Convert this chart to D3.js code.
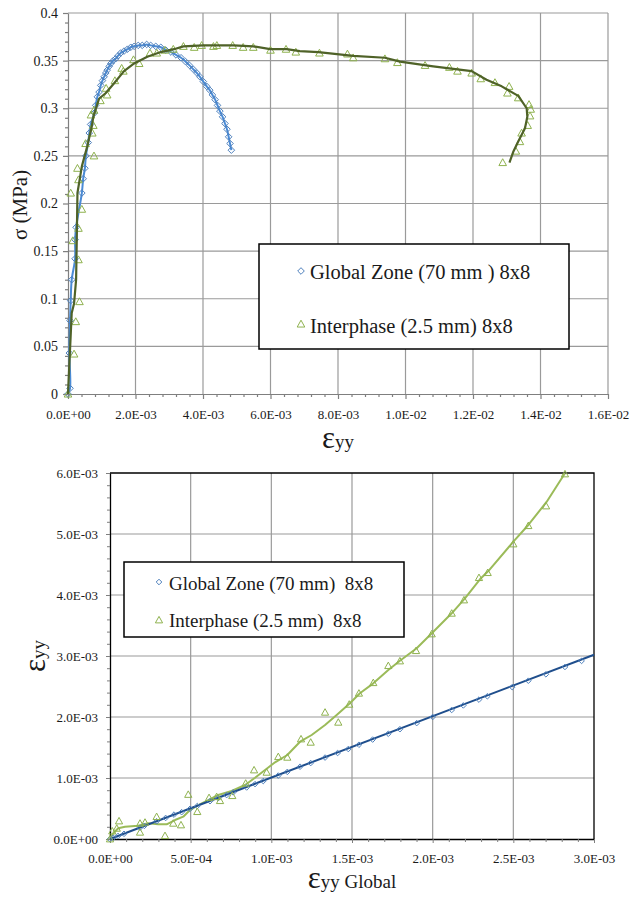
<!DOCTYPE html>
<html><head><meta charset="utf-8">
<script src="https://cdn.jsdelivr.net/npm/d3@7"></script>
<style>body{margin:0;background:#fff} svg{display:block} text{font-family:"Liberation Serif","Times New Roman",serif;fill:#1a1a1a}</style>
</head><body><svg id="c" width="632" height="899"></svg>
<script>
// ---------------- TOP CHART DATA (strain eyy vs stress MPa) ----------------
const topGlobalX = [0,6e-5,4e-5,6e-5,8e-5,1.1e-4,2.1e-4,2.1e-4,2.4e-4,4.1e-4,4.5e-4,5.0e-4,5.3e-4,6.0e-4,6.3e-4,6.7e-4,7.8e-4,8.2e-4,8.7e-4,9.2e-4,9.7e-4,1.02e-3,1.07e-3,1.12e-3,1.16e-3,1.22e-3,1.27e-3,1.34e-3,1.41e-3,1.48e-3,1.56e-3,1.66e-3,1.76e-3,1.86e-3,1.96e-3,2.08e-3,2.20e-3,2.33e-3,2.45e-3,2.60e-3,2.75e-3,2.90e-3,3.05e-3,3.20e-3,3.35e-3,3.48e-3,3.60e-3,3.71e-3,3.82e-3,3.91e-3,4.01e-3,4.11e-3,4.20e-3,4.28e-3,4.36e-3,4.43e-3,4.50e-3,4.58e-3,4.65e-3,4.71e-3,4.76e-3,4.80e-3,4.84e-3];
const topGlobalY = [0,0.006,0.043,0.077,0.098,0.120,0.142,0.162,0.175,0.211,0.226,0.237,0.250,0.264,0.274,0.283,0.295,0.303,0.312,0.317,0.324,0.329,0.333,0.337,0.340,0.344,0.347,0.350,0.352,0.355,0.358,0.360,0.362,0.364,0.365,0.366,0.366,0.367,0.366,0.365,0.364,0.361,0.359,0.356,0.353,0.349,0.345,0.341,0.337,0.333,0.328,0.323,0.319,0.314,0.309,0.303,0.297,0.291,0.284,0.278,0.270,0.263,0.256];

const topInterX = [0,1.8e-4,2.3e-4,3.4e-4,3.1e-4,1.4e-4,3.1e-4,4.1e-4,8e-5,3.1e-4,2.8e-4,7.7e-4,5.2e-4,7.2e-4,7.5e-4,6.8e-4,7.7e-4,9.6e-4,1.16e-3,1.13e-3,1.39e-3,1.64e-3,1.59e-3,1.94e-3,2.11e-3,2.43e-3,2.63e-3,2.87e-3,3.12e-3,3.42e-3,3.74e-3,3.96e-3,4.31e-3,4.41e-3,4.88e-3,5.19e-3,5.49e-3,6.00e-3,6.46e-3,6.75e-3,7.45e-3,8.28e-3,8.45e-3,9.39e-3,9.76e-3,1.058e-2,1.130e-2,1.154e-2,1.196e-2,1.223e-2,1.265e-2,1.307e-2,1.302e-2,1.334e-2,1.366e-2,1.371e-2,1.369e-2,1.362e-2,1.344e-2,1.339e-2,1.327e-2,1.288e-2];
const topInterY = [0,0.042,0.076,0.097,0.141,0.161,0.174,0.194,0.211,0.225,0.237,0.250,0.263,0.274,0.282,0.293,0.298,0.308,0.314,0.321,0.329,0.339,0.342,0.351,0.347,0.358,0.358,0.361,0.362,0.365,0.364,0.366,0.365,0.366,0.366,0.364,0.364,0.361,0.362,0.359,0.358,0.357,0.353,0.352,0.348,0.345,0.343,0.339,0.337,0.331,0.327,0.323,0.316,0.311,0.304,0.299,0.292,0.282,0.274,0.265,0.255,0.243];

const topInterLineX = [0,1.1e-4,1.8e-4,2.4e-4,2.6e-4,2.8e-4,4.1e-4,5.7e-4,7.0e-4,7.5e-4,9.2e-4,1.12e-3,1.36e-3,1.66e-3,1.96e-3,2.35e-3,2.75e-3,3.14e-3,3.42e-3,4.01e-3,4.90e-3,5.49e-3,5.99e-3,6.48e-3,6.87e-3,7.42e-3,8.45e-3,9.39e-3,9.84e-3,1.082e-2,1.196e-2,1.240e-2,1.285e-2,1.334e-2,1.359e-2,1.361e-2,1.354e-2,1.334e-2,1.319e-2,1.308e-2];
const topInterLineY = [0,0.085,0.095,0.120,0.162,0.211,0.239,0.260,0.280,0.291,0.310,0.316,0.326,0.339,0.347,0.354,0.359,0.362,0.365,0.366,0.366,0.365,0.362,0.362,0.360,0.359,0.355,0.353,0.349,0.344,0.339,0.330,0.323,0.313,0.300,0.291,0.279,0.265,0.254,0.243];

const topXTicks = [0,0.002,0.004,0.006,0.008,0.010,0.012,0.014,0.016];
const topYTicks = [0,0.05,0.10,0.15,0.20,0.25,0.30,0.35,0.40];
const topYLabels = ["0","0.05","0.1","0.15","0.2","0.25","0.3","0.35","0.4"];

// ---------------- BOTTOM CHART DATA (eyy vs eyy Global) ----------------
const botGlobalX = [0,2e-5,5e-5,8.7e-5,1.86e-4,2.13e-4,2.89e-4,3.45e-4,3.97e-4,4.44e-4,4.96e-4,5.41e-4,6.20e-4,6.71e-4,7.23e-4,7.64e-4,8.47e-4,8.99e-4,9.50e-4,1.043e-3,1.099e-3,1.178e-3,1.244e-3,1.333e-3,1.411e-3,1.477e-3,1.543e-3,1.628e-3,1.725e-3,1.797e-3,1.901e-3,2.000e-3,2.118e-3,2.190e-3,2.287e-3,2.339e-3,2.493e-3,2.593e-3,2.702e-3,2.820e-3,2.923e-3];
const botGlobalY = [0,2e-5,5e-5,8.5e-5,1.85e-4,2.15e-4,2.90e-4,3.45e-4,4.00e-4,4.40e-4,4.95e-4,5.40e-4,6.20e-4,6.70e-4,7.20e-4,7.65e-4,8.45e-4,9.00e-4,9.50e-4,1.040e-3,1.100e-3,1.185e-3,1.245e-3,1.335e-3,1.410e-3,1.475e-3,1.545e-3,1.630e-3,1.725e-3,1.800e-3,1.900e-3,2.000e-3,2.115e-3,2.190e-3,2.285e-3,2.340e-3,2.490e-3,2.595e-3,2.700e-3,2.820e-3,2.920e-3];
const botGlobalLineX = [0,3.0e-3];
const botGlobalLineY = [0,3.02e-3];

const botInterX = [0,1.4e-5,4.2e-5,5.6e-5,1.86e-4,1.86e-4,2.17e-4,2.89e-4,3.41e-4,3.92e-4,4.40e-4,4.85e-4,5.41e-4,6.14e-4,6.61e-4,6.82e-4,7.58e-4,8.41e-4,8.93e-4,9.71e-4,1.043e-3,1.099e-3,1.184e-3,1.244e-3,1.333e-3,1.415e-3,1.483e-3,1.543e-3,1.632e-3,1.725e-3,1.797e-3,1.897e-3,1.994e-3,2.118e-3,2.194e-3,2.287e-3,2.341e-3,2.500e-3,2.593e-3,2.703e-3,2.820e-3];
const botInterY = [0,1.3e-4,1.75e-4,2.95e-4,2.57e-4,1.10e-4,2.73e-4,3.66e-4,5.4e-5,2.57e-4,2.30e-4,7.30e-4,4.48e-4,6.77e-4,6.93e-4,6.28e-4,7.10e-4,9.13e-4,1.131e-3,1.093e-3,1.349e-3,1.339e-3,1.639e-3,1.585e-3,2.077e-3,1.913e-3,2.208e-3,2.389e-3,2.562e-3,2.841e-3,2.918e-3,3.087e-3,3.361e-3,3.700e-3,3.918e-3,4.284e-3,4.366e-3,4.836e-3,5.136e-3,5.459e-3,5.984e-3];

const botInterLineX = [0,2e-5,5.1e-5,9.3e-5,1.75e-4,2.37e-4,2.99e-4,3.51e-4,4.03e-4,4.54e-4,4.96e-4,5.47e-4,6.09e-4,6.71e-4,7.54e-4,8.37e-4,8.99e-4,9.61e-4,1.023e-3,1.099e-3,1.178e-3,1.250e-3,1.333e-3,1.405e-3,1.487e-3,1.549e-3,1.632e-3,1.725e-3,1.797e-3,1.901e-3,2.004e-3,2.118e-3,2.200e-3,2.293e-3,2.345e-3,2.500e-3,2.593e-3,2.707e-3,2.820e-3];
const botInterLineY = [0,9.3e-5,1.75e-4,2.00e-4,2.18e-4,2.57e-4,2.40e-4,2.40e-4,3.11e-4,3.66e-4,4.75e-4,5.57e-4,6.39e-4,7.21e-4,7.87e-4,8.85e-4,1.005e-3,1.131e-3,1.257e-3,1.377e-3,1.595e-3,1.705e-3,1.869e-3,2.033e-3,2.225e-3,2.389e-3,2.552e-3,2.770e-3,2.923e-3,3.126e-3,3.398e-3,3.700e-3,3.946e-3,4.257e-3,4.393e-3,4.874e-3,5.148e-3,5.530e-3,5.995e-3];

const botXTicks = [0,5e-4,1e-3,1.5e-3,2e-3,2.5e-3,3e-3];
const botYTicks = [0,1e-3,2e-3,3e-3,4e-3,5e-3,6e-3];

const seriesNames = ["Global Zone (70 mm ) 8x8","Interphase (2.5 mm) 8x8"];
const seriesNamesBottom = ["Global Zone (70 mm)  8x8","Interphase (2.5 mm)  8x8"];

// ---------------- helpers ----------------
const svg = d3.select("#c");
function sci(d){
  if (d === 0) return "0.0E+00";
  const parts = d.toExponential(1).split("e");
  const n = +parts[1];
  return parts[0] + "E" + (n < 0 ? "-" : "+") + String(Math.abs(n)).padStart(2, "0");
}
const zip = (a, b) => a.map((v, i) => [v, b[i]]);
const diamond = r => `M0,${-r}L${r},0L0,${r}L${-r},0Z`;
const tri = r => `M0,${-r}L${r},${r*0.8}L${-r},${r*0.8}Z`;

function minor(ticks, n){
  const out = [];
  for (let i = 0; i < ticks.length - 1; i++) {
    const s = (ticks[i+1] - ticks[i]) / n;
    for (let k = 1; k < n; k++) out.push(ticks[i] + s * k);
  }
  return out;
}

// ---------------- TOP CHART ----------------
(function(){
  const L = 68, R = 608, T = 13, B = 394;
  const x = d3.scaleLinear().domain([0, 0.016]).range([L, R]);
  const y = d3.scaleLinear().domain([0, 0.4]).range([B, T]);
  const g = svg.append("g");
  const gridC = "#9a9a9a";
  g.append("g").selectAll("line").data(topXTicks.slice(1)).join("line")
    .attr("x1", d => x(d)).attr("x2", d => x(d)).attr("y1", T).attr("y2", B)
    .attr("stroke", gridC).attr("stroke-width", 1.2);
  g.append("g").selectAll("line").data(topYTicks.slice(1)).join("line")
    .attr("x1", L).attr("x2", R).attr("y1", d => y(d)).attr("y2", d => y(d))
    .attr("stroke", gridC).attr("stroke-width", 1.2);

  const axC = "#7f7f7f";
  const ya = g.append("g").attr("transform", `translate(${L},0)`)
    .call(d3.axisLeft(y).tickValues(topYTicks).tickSize(5).tickSizeOuter(0).tickPadding(5)
      .tickFormat((d, i) => topYLabels[i]));
  ya.append("g").call(d3.axisLeft(y).tickValues(minor(topYTicks, 5)).tickSize(3).tickFormat(""))
    .select(".domain").remove();
  const xa = g.append("g").attr("transform", `translate(0,${B})`)
    .call(d3.axisBottom(x).tickValues(topXTicks).tickSize(5).tickSizeOuter(0).tickPadding(11).tickFormat(sci));
  xa.append("g").call(d3.axisBottom(x).tickValues(minor(topXTicks, 5)).tickSize(3).tickFormat(""))
    .select(".domain").remove();
  [ya, xa].forEach(a => {
    a.selectAll("path,line").attr("stroke", axC).attr("stroke-width", 1.2);
  });
  ya.selectAll("text").attr("font-size", 14).attr("font-family", "Liberation Serif").attr("fill", "#1a1a1a");
  xa.selectAll("text").attr("font-size", 13).attr("font-family", "Liberation Serif").attr("fill", "#1a1a1a");

  const line = d3.line().x(d => x(d[0])).y(d => y(d[1]));
  g.append("path").datum(zip(topGlobalX, topGlobalY))
    .attr("d", line.curve(d3.curveCatmullRom)).attr("fill", "none").attr("stroke", "#4a8bd6").attr("stroke-width", 2);
  g.append("g").selectAll("path").data(zip(topGlobalX, topGlobalY)).join("path")
    .attr("d", diamond(3.3)).attr("transform", d => `translate(${x(d[0])},${y(d[1])})`)
    .attr("fill", "none").attr("stroke", "#4f81bd").attr("stroke-width", 1);
  g.append("g").selectAll("path").data(zip(topInterX, topInterY)).join("path")
    .attr("d", tri(3.8)).attr("transform", d => `translate(${x(d[0])},${y(d[1])})`)
    .attr("fill", "none").attr("stroke", "#8fb24f").attr("stroke-width", 1);
  g.append("path").datum(zip(topInterLineX, topInterLineY))
    .attr("d", d3.line().x(d => x(d[0])).y(d => y(d[1]))).attr("fill", "none")
    .attr("stroke", "#4f6228").attr("stroke-width", 2.2).attr("stroke-linejoin", "round");

  g.append("text").attr("transform", "translate(27,205) rotate(-90)").attr("text-anchor", "middle")
    .attr("font-size", 21).text("σ (MPa)");
  const xt = g.append("text").attr("x", 338).attr("y", 448).attr("text-anchor", "middle");
  xt.append("tspan").attr("font-size", 31).text("ε");
  xt.append("tspan").attr("font-size", 19).text("yy");

  const lg = g.append("g");
  lg.append("rect").attr("x", 259).attr("y", 244).attr("width", 310).attr("height", 105)
    .attr("fill", "#fff").attr("stroke", "#000").attr("stroke-width", 1.5);
  lg.append("path").attr("d", diamond(3.3)).attr("transform", "translate(301,271)")
    .attr("fill", "none").attr("stroke", "#4f81bd");
  lg.append("path").attr("d", tri(3.8)).attr("transform", "translate(301,324)")
    .attr("fill", "none").attr("stroke", "#8fb24f");
  lg.append("text").attr("x", 310).attr("y", 279).attr("font-size", 20.5).style("white-space", "pre").text(seriesNames[0]);
  lg.append("text").attr("x", 310).attr("y", 333).attr("font-size", 20.5).style("white-space", "pre").text(seriesNames[1]);
})();

// ---------------- BOTTOM CHART ----------------
(function(){
  const L = 110, R = 594, T = 473, B = 839;
  const x = d3.scaleLinear().domain([0, 0.003]).range([L, R]);
  const y = d3.scaleLinear().domain([0, 0.006]).range([B, T]);
  const g = svg.append("g");
  const gridC = "#9a9a9a";
  g.append("g").selectAll("line").data(botXTicks.slice(1, -1)).join("line")
    .attr("x1", d => x(d)).attr("x2", d => x(d)).attr("y1", T).attr("y2", B)
    .attr("stroke", gridC).attr("stroke-width", 1.2);
  g.append("g").selectAll("line").data(botYTicks.slice(1, -1)).join("line")
    .attr("x1", L).attr("x2", R).attr("y1", d => y(d)).attr("y2", d => y(d))
    .attr("stroke", gridC).attr("stroke-width", 1.2);

  const ya = g.append("g").attr("transform", `translate(${L},0)`)
    .call(d3.axisLeft(y).tickValues(botYTicks).tickSize(4).tickSizeOuter(0).tickPadding(8).tickFormat(sci));
  ya.append("g").call(d3.axisLeft(y).tickValues(minor(botYTicks, 5)).tickSize(3).tickFormat(""))
    .select(".domain").remove();
  const xa = g.append("g").attr("transform", `translate(0,${B})`)
    .call(d3.axisBottom(x).tickValues(botXTicks).tickSize(4).tickSizeOuter(0).tickPadding(11).tickFormat(sci));
  xa.append("g").call(d3.axisBottom(x).tickValues(minor(botXTicks, 5)).tickSize(3).tickFormat(""))
    .select(".domain").remove();
  [ya, xa].forEach(a => {
    a.selectAll("line").attr("stroke", "#7f7f7f");
    a.selectAll("text").attr("font-size", 13).attr("font-family", "Liberation Serif").attr("fill", "#1a1a1a");
  });
  ya.select(".domain").attr("stroke", "#000").attr("stroke-width", 1.3);
  xa.select(".domain").attr("stroke", "#000").attr("stroke-width", 1.3);
  g.append("path").attr("d", `M${L},${T}H${R}V${B}`).attr("fill", "none").attr("stroke", "#000").attr("stroke-width", 1.3);

  const line = d3.line().x(d => x(d[0])).y(d => y(d[1]));
  g.append("path").datum(zip(botInterLineX, botInterLineY)).attr("d", line)
    .attr("fill", "none").attr("stroke", "#9bbb59").attr("stroke-width", 2).attr("stroke-linejoin", "round");
  g.append("path").datum(zip(botGlobalLineX, botGlobalLineY)).attr("d", line)
    .attr("fill", "none").attr("stroke", "#1f4e8c").attr("stroke-width", 2);
  g.append("g").selectAll("path").data(zip(botGlobalX, botGlobalY)).join("path")
    .attr("d", diamond(2.8)).attr("transform", d => `translate(${x(d[0])},${y(d[1])})`)
    .attr("fill", "none").attr("stroke", "#4f81bd").attr("stroke-width", 1);
  g.append("g").selectAll("path").data(zip(botInterX, botInterY)).join("path")
    .attr("d", tri(3.6)).attr("transform", d => `translate(${x(d[0])},${y(d[1])})`)
    .attr("fill", "none").attr("stroke", "#8fb24f").attr("stroke-width", 1);

  const yt = g.append("text").attr("transform", "translate(45,656) rotate(-90)").attr("text-anchor", "middle");
  yt.append("tspan").attr("font-size", 31).text("ε");
  yt.append("tspan").attr("font-size", 19).text("yy");
  const xt = g.append("text").attr("x", 352).attr("y", 888).attr("text-anchor", "middle");
  xt.append("tspan").attr("font-size", 31).text("ε");
  xt.append("tspan").attr("font-size", 19).text("yy Global");

  const lg = g.append("g");
  lg.append("rect").attr("x", 124).attr("y", 562).attr("width", 280).attr("height", 75)
    .attr("fill", "#fff").attr("stroke", "#000").attr("stroke-width", 1.5);
  lg.append("path").attr("d", diamond(2.8)).attr("transform", "translate(159,582)")
    .attr("fill", "none").attr("stroke", "#4f81bd");
  lg.append("path").attr("d", tri(3.6)).attr("transform", "translate(159,620)")
    .attr("fill", "none").attr("stroke", "#8fb24f");
  lg.append("text").attr("x", 169).attr("y", 590).attr("font-size", 19).style("white-space", "pre").text(seriesNamesBottom[0]);
  lg.append("text").attr("x", 169).attr("y", 627).attr("font-size", 19).style("white-space", "pre").text(seriesNamesBottom[1]);
})();
</script>
</body></html>
